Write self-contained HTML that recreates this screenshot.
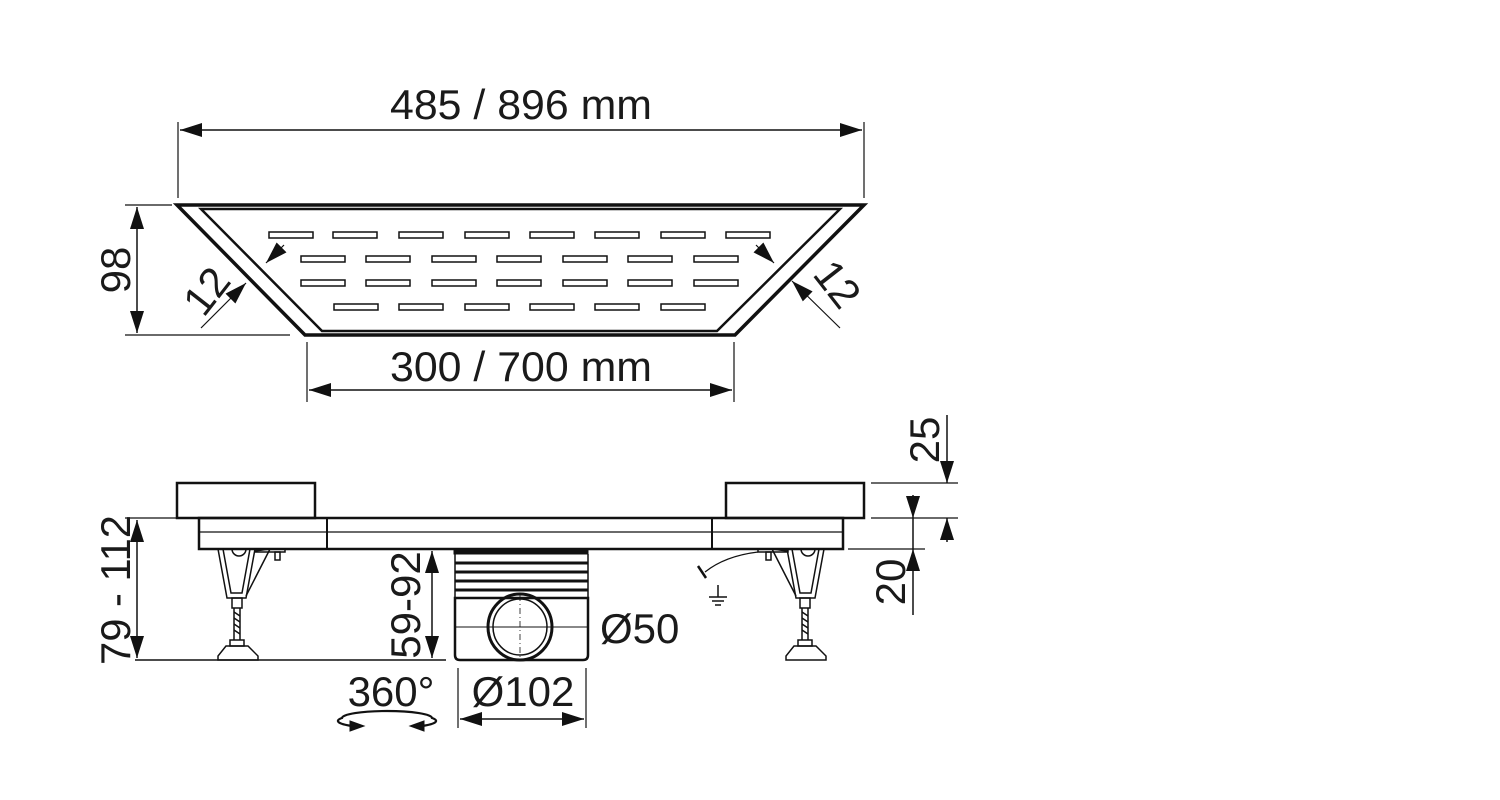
<!DOCTYPE html>
<html><head><meta charset="utf-8"><style>
html,body{margin:0;padding:0;background:#fff;width:1500px;height:800px;overflow:hidden}
svg{display:block}
text{font-family:"Liberation Sans",sans-serif;fill:#1a1a1a}
</style></head><body>
<svg width="1500" height="800" viewBox="0 0 1500 800" xmlns="http://www.w3.org/2000/svg">
<defs>
<marker id="b" viewBox="0 0 10 10" refX="10" refY="5" markerWidth="22" markerHeight="14" markerUnits="userSpaceOnUse" orient="auto-start-reverse" preserveAspectRatio="none"><path d="M0,0 L10,5 L0,10 z" fill="#111"/></marker>
</defs>
<g stroke="#111" fill="none">
<line x1="178" y1="122" x2="178" y2="198" stroke-width="1.2"/>
<line x1="864" y1="122" x2="864" y2="198" stroke-width="1.2"/>
<line x1="180" y1="130" x2="862" y2="130" stroke-width="1.5" marker-start="url(#b)" marker-end="url(#b)"/>
<line x1="125" y1="205" x2="172" y2="205" stroke-width="1.2"/>
<line x1="125" y1="335" x2="290" y2="335" stroke-width="1.2"/>
<line x1="137" y1="207" x2="137" y2="333" stroke-width="1.5" marker-start="url(#b)" marker-end="url(#b)"/>
<line x1="307" y1="342" x2="307" y2="402" stroke-width="1.2"/>
<line x1="734" y1="342" x2="734" y2="402" stroke-width="1.2"/>
<line x1="309" y1="390" x2="732" y2="390" stroke-width="1.5" marker-start="url(#b)" marker-end="url(#b)"/>
<path d="M177,205 L864,205 L735,335 L305,335 Z" stroke-width="3.5"/>
<path d="M201,209 L840,209 L717,331 L322,331 Z" stroke-width="2.5"/>
<line x1="201" y1="328" x2="246" y2="283" stroke-width="1.2" marker-end="url(#b)"/>
<line x1="284" y1="245" x2="266" y2="263" stroke-width="1.2" marker-end="url(#b)"/>
<line x1="840" y1="328" x2="792" y2="281" stroke-width="1.2" marker-end="url(#b)"/>
<line x1="756" y1="245" x2="774" y2="263" stroke-width="1.2" marker-end="url(#b)"/>
<g stroke-width="1.5">
<rect x="269" y="232" width="44" height="6"/><rect x="333" y="232" width="44" height="6"/><rect x="399" y="232" width="44" height="6"/><rect x="465" y="232" width="44" height="6"/><rect x="530" y="232" width="44" height="6"/><rect x="595" y="232" width="44" height="6"/><rect x="661" y="232" width="44" height="6"/><rect x="726" y="232" width="44" height="6"/>
<rect x="301" y="256" width="44" height="6"/><rect x="366" y="256" width="44" height="6"/><rect x="432" y="256" width="44" height="6"/><rect x="497" y="256" width="44" height="6"/><rect x="563" y="256" width="44" height="6"/><rect x="628" y="256" width="44" height="6"/><rect x="694" y="256" width="44" height="6"/>
<rect x="301" y="280" width="44" height="6"/><rect x="366" y="280" width="44" height="6"/><rect x="432" y="280" width="44" height="6"/><rect x="497" y="280" width="44" height="6"/><rect x="563" y="280" width="44" height="6"/><rect x="628" y="280" width="44" height="6"/><rect x="694" y="280" width="44" height="6"/>
<rect x="334" y="304" width="44" height="6"/><rect x="399" y="304" width="44" height="6"/><rect x="465" y="304" width="44" height="6"/><rect x="530" y="304" width="44" height="6"/><rect x="595" y="304" width="44" height="6"/><rect x="661" y="304" width="44" height="6"/>
</g>
<rect x="177" y="483" width="138" height="35" stroke-width="2.5"/>
<rect x="726" y="483" width="138" height="35" stroke-width="2.5"/>
<rect x="199" y="518" width="644" height="31" stroke-width="2.5"/>
<line x1="327" y1="518" x2="327" y2="549" stroke-width="2"/>
<line x1="712" y1="518" x2="712" y2="549" stroke-width="2"/>
<line x1="199" y1="532" x2="843" y2="532" stroke-width="1.2"/>
<rect x="454" y="549" width="134" height="5" fill="#111" stroke-width="1"/>
<g stroke-width="3"><line x1="455" y1="563" x2="588" y2="563"/><line x1="455" y1="572" x2="588" y2="572"/><line x1="455" y1="581" x2="588" y2="581"/><line x1="455" y1="590" x2="588" y2="590"/></g>
<line x1="455" y1="554" x2="455" y2="598" stroke-width="1.5"/><line x1="588" y1="554" x2="588" y2="598" stroke-width="1.5"/>
<path d="M455,598 L588,598 L588,655 Q588,660 583,660 L460,660 Q455,660 455,655 Z" stroke-width="2.5"/>
<line x1="455" y1="627" x2="588" y2="627" stroke-width="1"/>
<ellipse cx="520" cy="627" rx="32" ry="33" stroke-width="3"/>
<ellipse cx="520" cy="627" rx="27" ry="28" stroke-width="1.5"/>
<line x1="520" y1="595" x2="520" y2="660" stroke-width="0.8" stroke-dasharray="6,3,1,3"/>
<line x1="490" y1="627" x2="550" y2="627" stroke-width="0.8"/>
<g stroke-width="1.5">
<path d="M218,549 L227,598 L246,598 L255,549"/><path d="M223,549 L231,593 L242,593 L250,549"/>
<path d="M232,549 A7,7 0 0 0 246,549"/>
<path d="M255,551 L270,549 L246,596"/><rect x="255" y="549" width="30" height="3"/>
<rect x="275" y="552" width="5" height="8"/>
<rect x="232" y="598" width="10" height="10"/>
<path d="M234,608 L234,640 M240,608 L240,640"/><path d="M234,612 L240,616 M234,618 L240,622 M234,624 L240,628 M234,630 L240,634"/>
<rect x="230" y="640" width="14" height="6"/>
<path d="M226,646 L248,646 L258,656 L258,660 L218,660 L218,656 Z"/>
<path d="M787,549 L796,598 L815,598 L824,549"/><path d="M792,549 L800,593 L811,593 L819,549"/>
<path d="M801,549 A7,7 0 0 0 815,549"/>
<path d="M787,551 L772,549 L796,596"/><rect x="758" y="549" width="30" height="3"/>
<rect x="766" y="552" width="5" height="8"/>
<rect x="800" y="598" width="10" height="10"/>
<path d="M802,608 L802,640 M808,608 L808,640"/><path d="M802,612 L808,616 M802,618 L808,622 M802,624 L808,628 M802,630 L808,634"/>
<rect x="798" y="640" width="14" height="6"/>
<path d="M794,646 L816,646 L826,656 L826,660 L786,660 L786,656 Z"/>
</g>
<path d="M758,552 Q725,556 705,572" stroke-width="1.2"/>
<path d="M698,566 L706,578" stroke-width="2.5"/>
<g stroke-width="1.5"><line x1="718" y1="585" x2="718" y2="597"/><line x1="709" y1="597" x2="727" y2="597"/><line x1="712" y1="601" x2="724" y2="601"/><line x1="715" y1="605" x2="721" y2="605"/></g>
<line x1="135" y1="660" x2="446" y2="660" stroke-width="1.5"/>
<line x1="125" y1="518" x2="198" y2="518" stroke-width="1.2"/>
<line x1="137" y1="520" x2="137" y2="658" stroke-width="1.5" marker-start="url(#b)" marker-end="url(#b)"/>
<line x1="432" y1="551" x2="432" y2="658" stroke-width="1.5" marker-start="url(#b)" marker-end="url(#b)"/>
<line x1="458" y1="668" x2="458" y2="728" stroke-width="1.2"/>
<line x1="586" y1="668" x2="586" y2="728" stroke-width="1.2"/>
<line x1="460" y1="719" x2="584" y2="719" stroke-width="1.5" marker-start="url(#b)" marker-end="url(#b)"/>
<path d="M352,726 A45,7 0 0 1 342,718 A45,7 0 0 1 432,718 A45,7 0 0 1 422,726" stroke-width="2.2"/>
<path d="M350,721 L364,726 L350,731 Z M424,721 L410,726 L424,731 Z" fill="#111"/>
<line x1="871" y1="483" x2="958" y2="483" stroke-width="1.2"/>
<line x1="871" y1="518" x2="958" y2="518" stroke-width="1.2"/>
<line x1="848" y1="549" x2="925" y2="549" stroke-width="1.2"/>
<line x1="947" y1="415" x2="947" y2="483" stroke-width="1.5" marker-end="url(#b)"/>
<line x1="947" y1="542" x2="947" y2="518" stroke-width="1.5" marker-end="url(#b)"/>
<line x1="913" y1="495" x2="913" y2="518" stroke-width="1.5" marker-end="url(#b)"/>
<line x1="913" y1="518" x2="913" y2="549" stroke-width="1.5"/>
<line x1="913" y1="615" x2="913" y2="549" stroke-width="1.5" marker-end="url(#b)"/>
</g>
<g font-size="42">
<text x="521" y="119" text-anchor="middle" textLength="262" lengthAdjust="spacingAndGlyphs">485 / 896 mm</text>
<text x="521" y="381" text-anchor="middle" textLength="262" lengthAdjust="spacingAndGlyphs">300 / 700 mm</text>
<text transform="translate(130,270) rotate(-90)" text-anchor="middle">98</text>
<text transform="translate(218,300) rotate(-52)" text-anchor="middle">12</text>
<text transform="translate(826,293) rotate(52)" text-anchor="middle">12</text>
<text transform="translate(130,590) rotate(-90)" text-anchor="middle" textLength="150" lengthAdjust="spacingAndGlyphs">79 - 112</text>
<text transform="translate(420,605) rotate(-90)" text-anchor="middle">59-92</text>
<text x="600" y="643">Ø50</text>
<text x="523" y="706" text-anchor="middle">Ø102</text>
<text x="391" y="706" text-anchor="middle">360°</text>
<text transform="translate(939,440) rotate(-90)" text-anchor="middle">25</text>
<text transform="translate(905,582) rotate(-90)" text-anchor="middle">20</text>
</g>
</svg>
</body></html>
